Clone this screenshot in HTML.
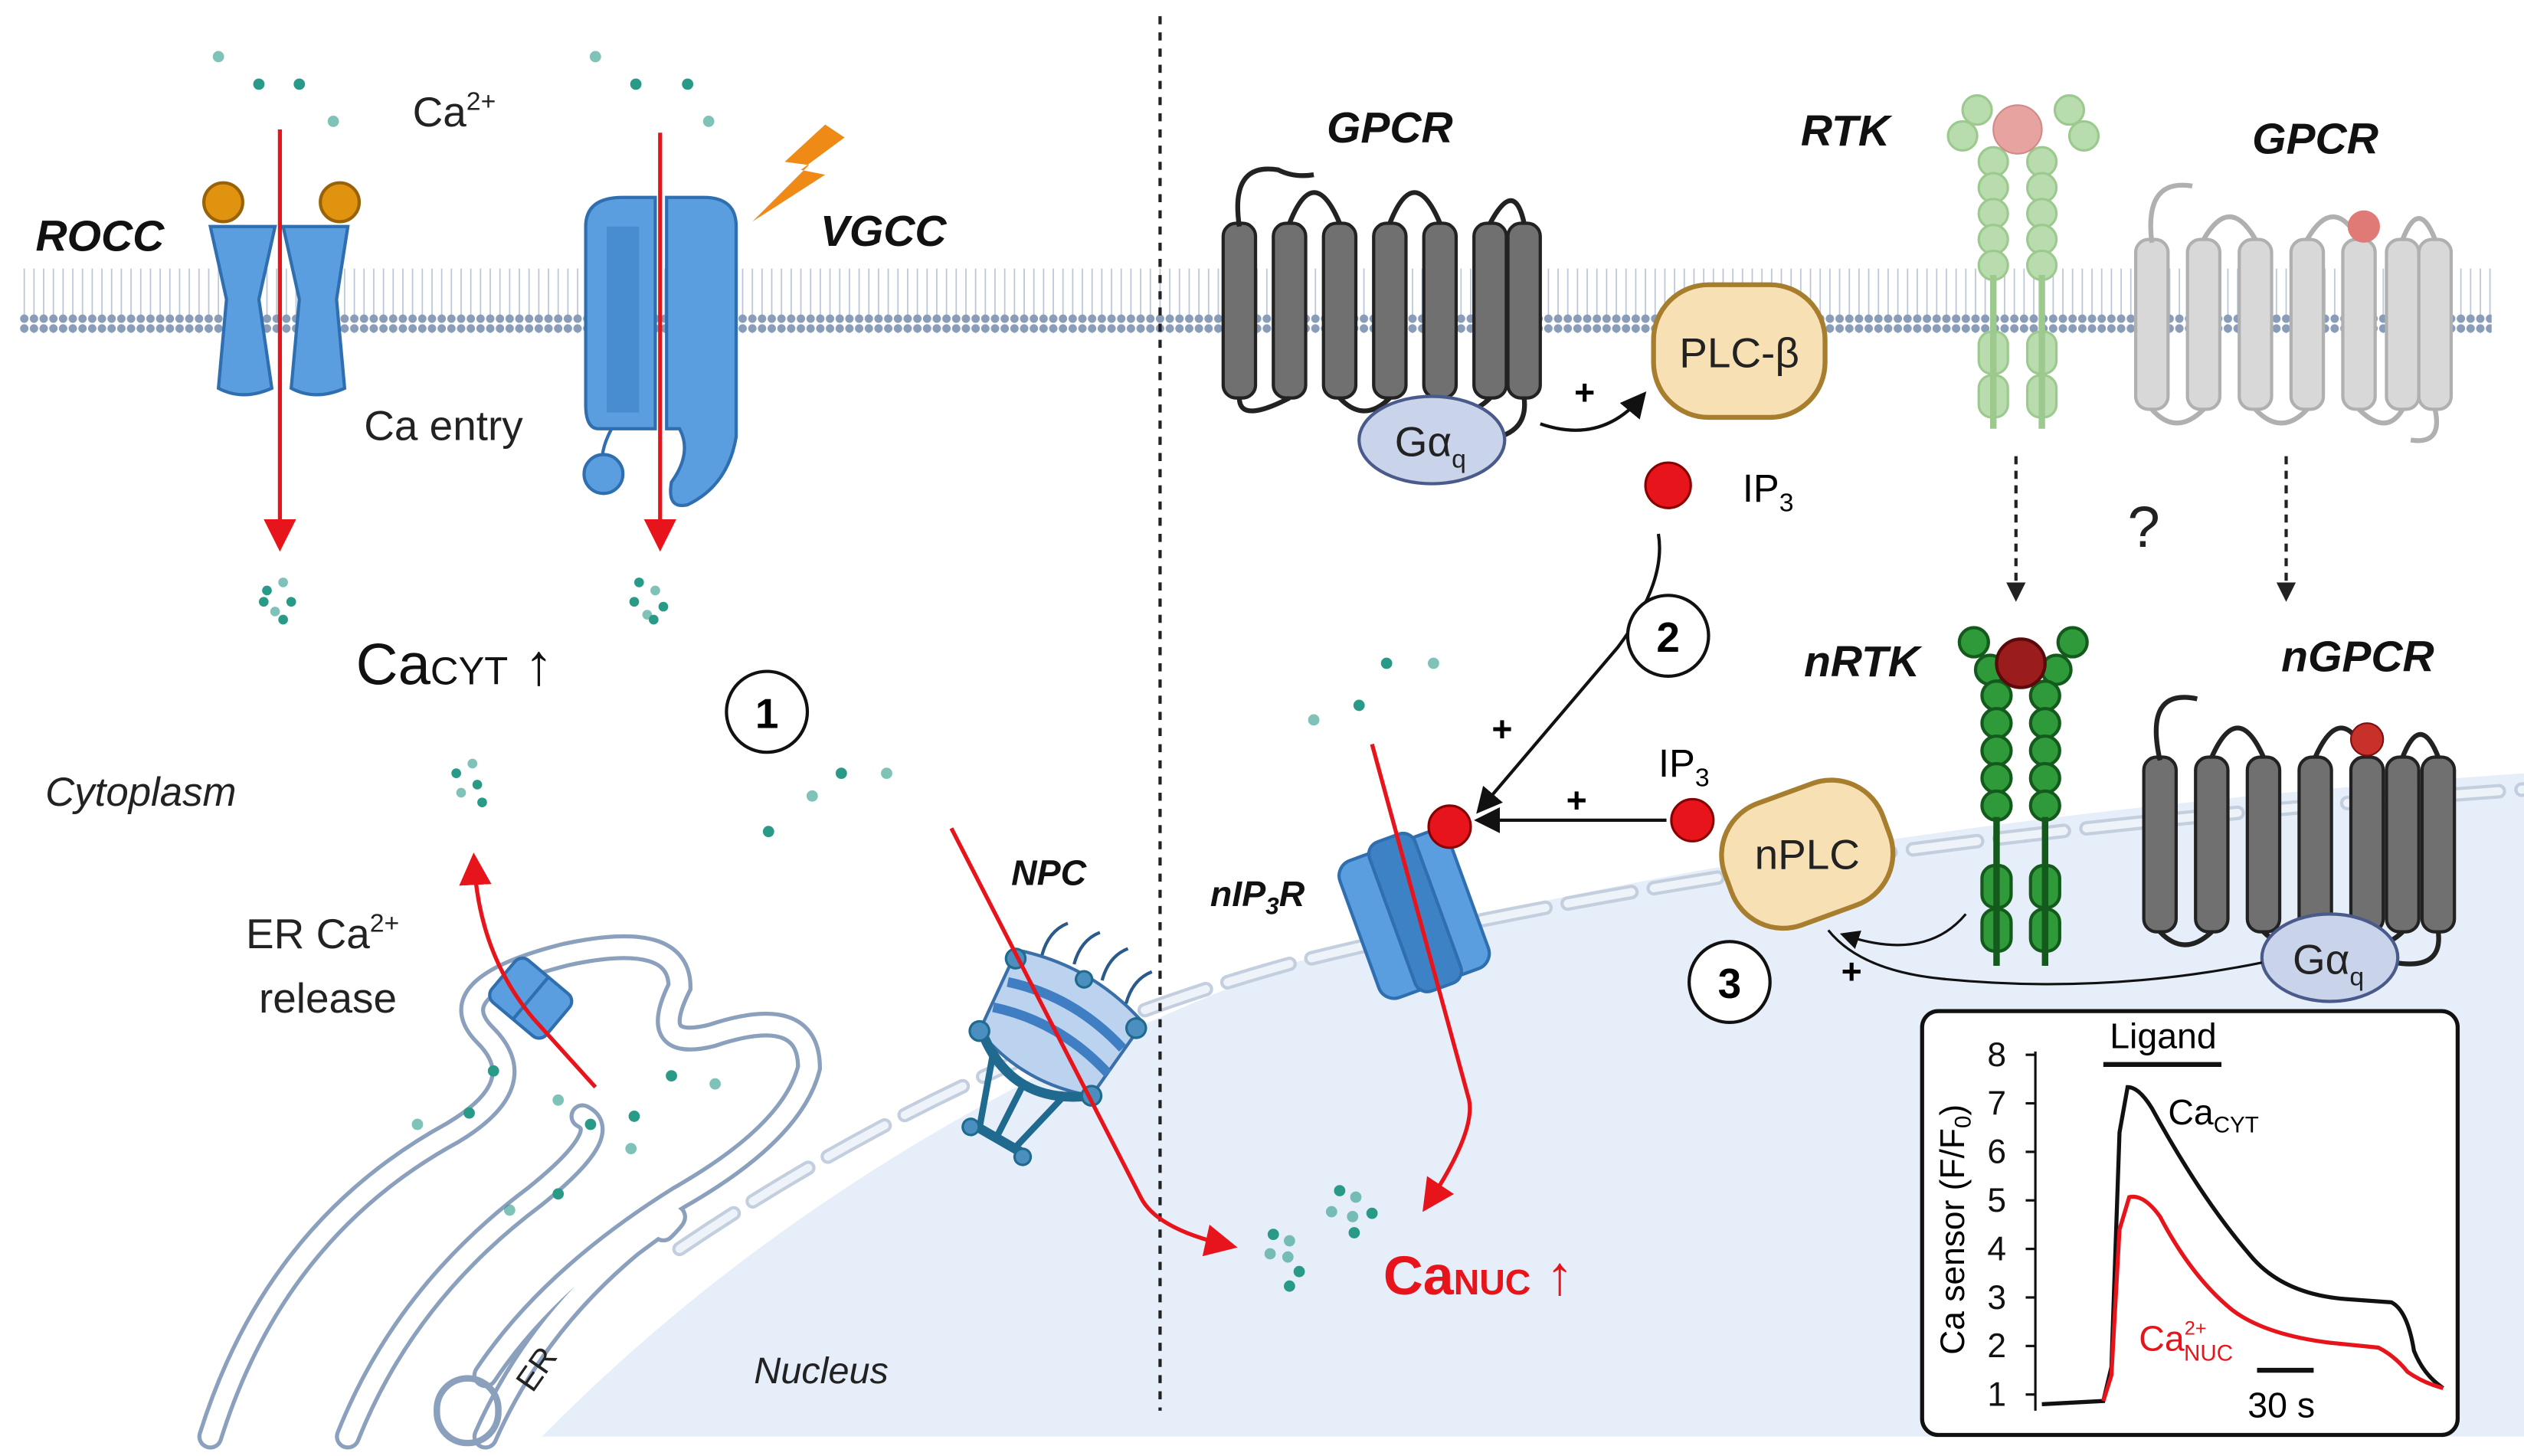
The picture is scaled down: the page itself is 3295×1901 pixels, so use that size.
<!DOCTYPE html>
<html><head><meta charset="utf-8"><style>
html,body{margin:0;padding:0;background:#fff}
svg{display:block}
text{font-family:"Liberation Sans",Arial,sans-serif}
</style></head><body>
<svg width="3295" height="1901" viewBox="0 0 1560 900" xmlns="http://www.w3.org/2000/svg">
<defs>
<pattern id="mem" x="0" y="0" width="6" height="40" patternUnits="userSpaceOnUse">
<line x1="3" y1="4" x2="3" y2="36" stroke="#b9c4d6" stroke-width="0.8"/>
<circle cx="3" cy="3" r="2.6" fill="#8a9db8"/>
<circle cx="3" cy="37" r="2.6" fill="#8a9db8"/>
</pattern>
<marker id="ra" markerWidth="8" markerHeight="8" refX="6" refY="4" orient="auto" markerUnits="strokeWidth"><path d="M0,0 L8,4 L0,8 Z" fill="#e8141b"/></marker>
<marker id="ka" markerWidth="8" markerHeight="8" refX="6" refY="4" orient="auto" markerUnits="strokeWidth"><path d="M0,0 L8,4 L0,8 Z" fill="#111"/></marker>
<marker id="da" markerWidth="6" markerHeight="6" refX="4" refY="3" orient="auto" markerUnits="strokeWidth"><path d="M0,0 L6,3 L0,6 Z" fill="#222"/></marker>
</defs>
<rect width="1560" height="900" fill="#fff"/>
<!-- nucleus -->
<path d="M335 888 Q 520 700 800 595 Q 1100 510 1560 478 L1560 888 Z" fill="#e6eef9"/>
<path d="M420 772 Q 600 650 800 595 Q 1100 520 1560 488" fill="none" stroke="#c3cfde" stroke-width="9" stroke-dasharray="40 14" stroke-linecap="round"/>
<path d="M420 772 Q 600 650 800 595 Q 1100 520 1560 488" fill="none" stroke="#eef3fa" stroke-width="5" stroke-dasharray="40 14" stroke-linecap="round"/>
<!-- membrane -->
<rect x="12" y="166" width="1528" height="40" fill="url(#mem)"/>
<!-- divider -->
<line x1="717" y1="10" x2="717" y2="872" stroke="#222" stroke-width="2" stroke-dasharray="5 5"/>

<!-- ER -->
<g fill="none" stroke="#8aa0bd" stroke-width="16" stroke-linecap="round">
<path d="M130 888 Q 170 760 280 700 Q 330 670 300 640 Q 270 610 350 590 Q 420 575 420 610 Q 400 650 440 640 Q 500 620 500 660 Q 490 700 420 740 Q 340 790 300 850"/>
<path d="M215 888 Q 250 800 330 740 Q 380 700 360 690"/>
<path d="M300 888 Q 330 820 390 770 Q 430 740 410 760"/>
</g>
<g fill="none" stroke="#fff" stroke-width="11" stroke-linecap="round">
<path d="M130 888 Q 170 760 280 700 Q 330 670 300 640 Q 270 610 350 590 Q 420 575 420 610 Q 400 650 440 640 Q 500 620 500 660 Q 490 700 420 740 Q 340 790 300 850"/>
<path d="M215 888 Q 250 800 330 740 Q 380 700 360 690"/>
<path d="M300 888 Q 330 820 390 770 Q 430 740 410 760"/>
</g>
<rect x="270" y="852" width="38" height="40" rx="19" fill="none" stroke="#8aa0bd" stroke-width="4"/>
<text x="318" y="860" font-size="20" transform="rotate(-55 325 850)" fill="#222">ER</text>

<!-- ER channel -->
<g transform="rotate(40 328 617)"><rect x="306" y="600" width="44" height="34" rx="6" fill="#5b9ee0" stroke="#2f6fb0" stroke-width="2"/><line x1="328" y1="600" x2="328" y2="634" stroke="#2f6fb0" stroke-width="2"/></g>
<path d="M368 672 L330 630 Q 296 590 293 532" fill="none" stroke="#e8141b" stroke-width="2.5" marker-end="url(#ra)"/>

<!-- ROCC -->
<path d="M130 140 L170 140 L160 185 L168 240 Q 150 248 135 240 L140 185 Z" fill="#5b9ee0" stroke="#2f6fb0" stroke-width="2"/>
<path d="M175 140 L215 140 L208 185 L213 240 Q 195 248 180 240 L185 185 Z" fill="#5b9ee0" stroke="#2f6fb0" stroke-width="2"/>
<circle cx="138" cy="125" r="12" fill="#e0930f" stroke="#9a6206" stroke-width="2"/>
<circle cx="210" cy="125" r="12" fill="#e0930f" stroke="#9a6206" stroke-width="2"/>
<line x1="173" y1="80" x2="173" y2="336" stroke="#e8141b" stroke-width="2.5" marker-end="url(#ra)"/>
<!-- VGCC -->
<path d="M362 140 Q 362 122 385 122 L405 122 L405 265 L370 265 Q 362 265 362 250 Z" fill="#5b9ee0" stroke="#2f6fb0" stroke-width="2"/>
<path d="M412 122 L435 122 Q 455 122 455 140 L455 270 Q 450 300 425 312 Q 412 315 415 298 Q 428 280 420 265 L412 265 Z" fill="#5b9ee0" stroke="#2f6fb0" stroke-width="2"/>
<path d="M375 140 L395 140 L395 255 L375 255" fill="#3e82c6" opacity="0.6"/>
<path d="M378 265 Q 370 280 373 290" fill="none" stroke="#2f6fb0" stroke-width="2"/>
<circle cx="373" cy="293" r="12" fill="#5b9ee0" stroke="#2f6fb0" stroke-width="2"/>
<line x1="408" y1="82" x2="408" y2="336" stroke="#e8141b" stroke-width="2.5" marker-end="url(#ra)"/>
<path d="M510 77 L485 100 L500 102 L465 137 L510 108 L495 105 L522 85 Z" fill="#f08a16"/>

<!-- Ca dots -->
<g fill="#2a9a88">
<circle cx="135" cy="35" r="3.5" opacity=".6"/><circle cx="160" cy="52" r="3.5"/><circle cx="185" cy="52" r="3.5"/><circle cx="206" cy="75" r="3.5" opacity=".6"/>
<circle cx="368" cy="35" r="3.5" opacity=".6"/><circle cx="393" cy="52" r="3.5"/><circle cx="425" cy="52" r="3.5"/><circle cx="438" cy="75" r="3.5" opacity=".6"/>
<circle cx="165" cy="365" r="3"/><circle cx="175" cy="360" r="3" opacity=".6"/><circle cx="180" cy="372" r="3"/><circle cx="170" cy="378" r="3" opacity=".6"/><circle cx="163" cy="372" r="3"/><circle cx="175" cy="383" r="3"/>
<circle cx="395" cy="360" r="3"/><circle cx="405" cy="365" r="3" opacity=".6"/><circle cx="410" cy="375" r="3"/><circle cx="400" cy="380" r="3" opacity=".6"/><circle cx="392" cy="372" r="3"/><circle cx="404" cy="383" r="3"/>
<circle cx="282" cy="478" r="3"/><circle cx="292" cy="472" r="3" opacity=".6"/><circle cx="295" cy="485" r="3"/><circle cx="285" cy="490" r="3" opacity=".6"/><circle cx="298" cy="496" r="3"/>
<circle cx="520" cy="478" r="3.5"/><circle cx="548" cy="478" r="3.5" opacity=".6"/><circle cx="502" cy="492" r="3.5" opacity=".6"/><circle cx="475" cy="514" r="3.5"/>
<circle cx="305" cy="662" r="3.5"/><circle cx="290" cy="688" r="3.5"/><circle cx="258" cy="695" r="3.5" opacity=".6"/><circle cx="345" cy="680" r="3.5" opacity=".6"/><circle cx="365" cy="695" r="3.5"/><circle cx="415" cy="665" r="3.5"/><circle cx="442" cy="670" r="3.5" opacity=".6"/><circle cx="392" cy="690" r="3.5"/><circle cx="390" cy="710" r="3.5" opacity=".6"/><circle cx="345" cy="738" r="3.5"/><circle cx="315" cy="748" r="3.5" opacity=".6"/>
<circle cx="857" cy="410" r="3.5"/><circle cx="886" cy="410" r="3.5" opacity=".6"/><circle cx="840" cy="436" r="3.5"/><circle cx="812" cy="445" r="3.5" opacity=".6"/>
<circle cx="787" cy="763" r="3.5"/><circle cx="797" cy="767" r="3.5" opacity=".6"/><circle cx="785" cy="775" r="3.5" opacity=".6"/><circle cx="796" cy="777" r="3.5" opacity=".6"/><circle cx="803" cy="786" r="3.5"/><circle cx="797" cy="795" r="3.5"/>
<circle cx="828" cy="736" r="3.5"/><circle cx="838" cy="740" r="3.5" opacity=".6"/><circle cx="823" cy="749" r="3.5" opacity=".6"/><circle cx="836" cy="752" r="3.5" opacity=".6"/><circle cx="848" cy="750" r="3.5"/><circle cx="837" cy="762" r="3.5"/>
</g>

<!-- NPC -->
<g transform="rotate(30 650 640)">
<path d="M605 605 Q 650 590 695 605 L 690 660 Q 650 675 610 660 Z" fill="#bcd3f0" stroke="#3a6fa8" stroke-width="2"/>
<path d="M610 625 Q 650 612 692 625" fill="none" stroke="#3f7ec2" stroke-width="6"/>
<path d="M610 643 Q 650 630 692 643" fill="none" stroke="#3f7ec2" stroke-width="6"/>
<path d="M612 660 Q 650 690 690 660" fill="none" stroke="#1f6a8e" stroke-width="6"/>
<path d="M625 670 L640 712 M650 675 L652 712 M675 670 L665 712" stroke="#1f6a8e" stroke-width="4"/>
<path d="M635 712 L672 712" stroke="#1f6a8e" stroke-width="6"/>
<g fill="#4a8fbf" stroke="#1f6a8e" stroke-width="1.5"><circle cx="607" cy="610" r="6"/><circle cx="693" cy="610" r="6"/><circle cx="610" cy="660" r="6"/><circle cx="690" cy="660" r="6"/><circle cx="635" cy="714" r="5"/><circle cx="672" cy="714" r="5"/><circle cx="650" cy="600" r="5"/></g>
<path d="M620 600 q-4 -15 4 -25 M640 595 q-4 -15 4 -25 M660 595 q-4 -15 4 -25 M680 600 q-4 -15 4 -25" fill="none" stroke="#2a5a8a" stroke-width="2"/>
</g>
<path d="M588 512 L705 740 Q 715 760 760 770" fill="none" stroke="#e8141b" stroke-width="2.5" marker-end="url(#ra)"/>

<!-- GPCR -->
<g fill="#707070" stroke="#222" stroke-width="2">
<rect x="756" y="138" width="20" height="108" rx="8"/><rect x="787" y="138" width="20" height="108" rx="8"/><rect x="818" y="138" width="20" height="108" rx="8"/><rect x="849" y="138" width="20" height="108" rx="8"/><rect x="880" y="138" width="20" height="108" rx="8"/><rect x="911" y="138" width="20" height="108" rx="8"/><rect x="932" y="138" width="20" height="108" rx="8"/>
</g>
<path d="M766 140 Q 760 100 790 105 Q 800 110 812 108 M797 138 Q 812 100 828 138 M859 138 Q 874 100 890 138 M921 138 Q 936 110 942 138 M766 246 Q 766 262 797 246 M828 246 Q 843 262 859 246 M890 246 Q 905 262 921 246 M942 246 Q 945 270 915 272" fill="none" stroke="#222" stroke-width="3"/>
<ellipse cx="885" cy="272" rx="45" ry="27" fill="#c9d3ea" stroke="#4a5a8a" stroke-width="2"/>
<text x="862" y="282" font-size="26" fill="#222">Gα<tspan font-size="16" dy="7">q</tspan></text>
<path d="M952 262 Q 990 275 1015 245" fill="none" stroke="#111" stroke-width="2" marker-end="url(#ka)"/>
<text x="973" y="250" font-size="22" font-weight="bold">+</text>
<rect x="1022" y="176" width="106" height="82" rx="34" fill="#f7e0b4" stroke="#a77d2e" stroke-width="3"/>
<text x="1075" y="227" font-size="26" text-anchor="middle" fill="#222">PLC-β</text>
<circle cx="1031" cy="300" r="14" fill="#e8141b" stroke="#800" stroke-width="1.5"/>
<text x="1077" y="310" font-size="24">IP<tspan font-size="16" dy="6">3</tspan></text>
<path d="M1025 330 Q 1030 360 1000 400 L 915 500" fill="none" stroke="#111" stroke-width="2" marker-end="url(#ka)"/>
<text x="922" y="458" font-size="22" font-weight="bold">+</text>

<!-- RTK light -->
<g fill="#b8dcae" stroke="#9cc98e" stroke-width="1.5">
<circle cx="1222" cy="68" r="9"/><circle cx="1213" cy="84" r="9"/><circle cx="1279" cy="68" r="9"/><circle cx="1288" cy="84" r="9"/>
<circle cx="1232" cy="100" r="9"/><circle cx="1232" cy="116" r="9"/><circle cx="1232" cy="132" r="9"/><circle cx="1232" cy="148" r="9"/><circle cx="1232" cy="164" r="9"/>
<circle cx="1262" cy="100" r="9"/><circle cx="1262" cy="116" r="9"/><circle cx="1262" cy="132" r="9"/><circle cx="1262" cy="148" r="9"/><circle cx="1262" cy="164" r="9"/>
<rect x="1223" y="205" width="18" height="26" rx="8"/><rect x="1223" y="232" width="18" height="26" rx="8"/><rect x="1253" y="205" width="18" height="26" rx="8"/><rect x="1253" y="232" width="18" height="26" rx="8"/>
</g>
<rect x="1230" y="170" width="4" height="95" fill="#9cc98e"/><rect x="1260" y="170" width="4" height="95" fill="#9cc98e"/>
<circle cx="1247" cy="80" r="15" fill="#e6a3a0" stroke="#d08a88"/>
<!-- GPCR faded -->
<g fill="#d8d8d8" stroke="#b0b0b0" stroke-width="2">
<rect x="1320" y="148" width="20" height="105" rx="8"/><rect x="1352" y="148" width="20" height="105" rx="8"/><rect x="1384" y="148" width="20" height="105" rx="8"/><rect x="1416" y="148" width="20" height="105" rx="8"/><rect x="1448" y="148" width="20" height="105" rx="8"/><rect x="1475" y="148" width="20" height="105" rx="8"/><rect x="1495" y="148" width="20" height="105" rx="8"/>
</g>
<path d="M1330 150 Q 1325 110 1355 115 M1362 148 Q 1378 120 1394 148 M1426 148 Q 1442 120 1458 148 M1485 148 Q 1495 122 1505 148 M1330 253 Q 1345 270 1362 253 M1394 253 Q 1410 270 1426 253 M1458 253 Q 1475 270 1485 253 M1505 253 Q 1510 275 1490 272" fill="none" stroke="#b0b0b0" stroke-width="3"/>
<circle cx="1461" cy="140" r="10" fill="#e07a76"/>
<line x1="1246" y1="282" x2="1246" y2="368" stroke="#222" stroke-width="2" stroke-dasharray="5 4" marker-end="url(#da)"/>
<line x1="1413" y1="282" x2="1413" y2="368" stroke="#222" stroke-width="2" stroke-dasharray="5 4" marker-end="url(#da)"/>
<text x="1325" y="338" font-size="36" text-anchor="middle" fill="#222">?</text>

<!-- nRTK -->
<g fill="#2f9a3a" stroke="#155a1d" stroke-width="2">
<circle cx="1220" cy="397" r="9"/><circle cx="1230" cy="414" r="9"/><circle cx="1281" cy="397" r="9"/><circle cx="1271" cy="414" r="9"/>
<circle cx="1234" cy="430" r="9"/><circle cx="1234" cy="447" r="9"/><circle cx="1234" cy="464" r="9"/><circle cx="1234" cy="481" r="9"/><circle cx="1234" cy="498" r="9"/>
<circle cx="1264" cy="430" r="9"/><circle cx="1264" cy="447" r="9"/><circle cx="1264" cy="464" r="9"/><circle cx="1264" cy="481" r="9"/><circle cx="1264" cy="498" r="9"/>
<rect x="1225" y="535" width="18" height="26" rx="8"/><rect x="1225" y="562" width="18" height="26" rx="8"/><rect x="1255" y="535" width="18" height="26" rx="8"/><rect x="1255" y="562" width="18" height="26" rx="8"/>
</g>
<rect x="1232" y="505" width="4" height="92" fill="#155a1d"/><rect x="1262" y="505" width="4" height="92" fill="#155a1d"/>
<circle cx="1249" cy="410" r="15" fill="#9a1c1c" stroke="#5a0a0a" stroke-width="2"/>
<!-- nGPCR -->
<g fill="#707070" stroke="#222" stroke-width="2">
<rect x="1325" y="468" width="20" height="108" rx="8"/><rect x="1357" y="468" width="20" height="108" rx="8"/><rect x="1389" y="468" width="20" height="108" rx="8"/><rect x="1421" y="468" width="20" height="108" rx="8"/><rect x="1453" y="468" width="20" height="108" rx="8"/><rect x="1475" y="468" width="20" height="108" rx="8"/><rect x="1497" y="468" width="20" height="108" rx="8"/>
</g>
<path d="M1335 470 Q 1325 425 1358 432 M1367 468 Q 1383 432 1399 468 M1431 468 Q 1447 432 1463 468 M1485 468 Q 1496 440 1507 468 M1335 576 Q 1350 592 1367 576 M1399 576 Q 1415 592 1431 576 M1463 576 Q 1470 590 1485 576 M1507 576 Q 1510 600 1480 595" fill="none" stroke="#222" stroke-width="3"/>
<circle cx="1463" cy="457" r="10" fill="#c8302a" stroke="#7a1010"/>
<ellipse cx="1440" cy="592" rx="42" ry="27" fill="#c9d3ea" stroke="#4a5a8a" stroke-width="2"/>
<text x="1417" y="602" font-size="26" fill="#222">Gα<tspan font-size="16" dy="7">q</tspan></text>
<!-- nPLC -->
<g transform="rotate(-20 1117 528)"><rect x="1065" y="488" width="104" height="80" rx="34" fill="#f7e0b4" stroke="#a77d2e" stroke-width="3"/></g>
<text x="1117" y="537" font-size="26" text-anchor="middle" fill="#222">nPLC</text>
<path d="M1215 565 Q 1190 595 1140 578" fill="none" stroke="#111" stroke-width="1.5" marker-end="url(#ka)"/>
<path d="M1398 595 Q 1300 615 1200 605 Q 1150 600 1130 575" fill="none" stroke="#111" stroke-width="1.5"/>
<text x="1138" y="608" font-size="22" font-weight="bold">+</text>
<circle cx="1046" cy="507" r="13" fill="#e8141b" stroke="#800" stroke-width="1.5"/>
<text x="1025" y="480" font-size="24">IP<tspan font-size="16" dy="6">3</tspan></text>
<line x1="1030" y1="507" x2="915" y2="507" stroke="#111" stroke-width="2" marker-end="url(#ka)"/>
<text x="968" y="502" font-size="22" font-weight="bold">+</text>
<!-- nIP3R -->
<g transform="rotate(-20 875 565)">
<rect x="838" y="520" width="34" height="90" rx="10" fill="#5b9ee0" stroke="#2f6fb0" stroke-width="2"/>
<rect x="876" y="520" width="34" height="90" rx="10" fill="#5b9ee0" stroke="#2f6fb0" stroke-width="2"/>
<rect x="860" y="515" width="30" height="98" rx="8" fill="#3e82c6" stroke="#2f6fb0" stroke-width="2"/>
</g>
<path d="M848 460 L908 680 Q 912 700 882 745" fill="none" stroke="#e8141b" stroke-width="2.5" marker-end="url(#ra)"/>
<circle cx="896" cy="511" r="13" fill="#e8141b" stroke="#800" stroke-width="1.5"/>

<!-- circled numbers -->
<g fill="#fff" stroke="#111" stroke-width="2"><circle cx="474" cy="440" r="25"/><circle cx="1031" cy="393" r="25"/><circle cx="1069" cy="607" r="25"/></g>
<g font-size="26" font-weight="bold" text-anchor="middle"><text x="474" y="450">1</text><text x="1031" y="403">2</text><text x="1069" y="617">3</text></g>

<!-- labels -->
<g font-weight="bold" font-style="italic" font-size="27" fill="#111">
<text x="22" y="155">ROCC</text><text x="507" y="152">VGCC</text><text x="820" y="88">GPCR</text><text x="1113" y="90">RTK</text><text x="1392" y="95">GPCR</text>
<text x="1115" y="418">nRTK</text><text x="1410" y="415">nGPCR</text>
<text x="625" y="547" font-size="22">NPC</text><text x="748" y="560" font-size="22">nIP<tspan font-size="15" dy="5">3</tspan><tspan dy="-5">R</tspan></text>
</g>
<text x="255" y="78" font-size="26" fill="#222">Ca<tspan font-size="16" dy="-10">2+</tspan></text>
<text x="225" y="272" font-size="26" fill="#222">Ca entry</text>
<text x="220" y="423" font-size="36" fill="#111">Ca<tspan font-size="24">CYT</tspan> ↑</text>
<text x="28" y="498" font-size="25" font-style="italic" fill="#222">Cytoplasm</text>
<text x="152" y="586" font-size="26" fill="#222">ER Ca<tspan font-size="16" dy="-10">2+</tspan></text>
<text x="160" y="626" font-size="26" fill="#222">release</text>
<text x="466" y="855" font-size="23" font-style="italic" fill="#222">Nucleus</text>
<text x="855" y="800" font-size="34" font-weight="bold" fill="#e8141b">Ca<tspan font-size="22">NUC</tspan><tspan font-weight="normal"> ↑</tspan></text>

<!-- graph -->
<rect x="1188" y="625" width="331" height="262" rx="10" fill="#fff" stroke="#111" stroke-width="2.5"/>
<line x1="1300" y1="658" x2="1373" y2="658" stroke="#111" stroke-width="3"/>
<text x="1337" y="648" font-size="22" text-anchor="middle">Ligand</text>
<line x1="1258" y1="650" x2="1258" y2="872" stroke="#111" stroke-width="1.5"/>
<g font-size="21" text-anchor="end" fill="#111">
<text x="1240" y="869">1</text><text x="1240" y="839">2</text><text x="1240" y="809">3</text><text x="1240" y="779">4</text><text x="1240" y="749">5</text><text x="1240" y="719">6</text><text x="1240" y="689">7</text><text x="1240" y="659">8</text>
</g>
<g stroke="#111" stroke-width="1.5"><line x1="1252" y1="862" x2="1258" y2="862"/><line x1="1252" y1="832" x2="1258" y2="832"/><line x1="1252" y1="802" x2="1258" y2="802"/><line x1="1252" y1="772" x2="1258" y2="772"/><line x1="1252" y1="742" x2="1258" y2="742"/><line x1="1252" y1="712" x2="1258" y2="712"/><line x1="1252" y1="682" x2="1258" y2="682"/><line x1="1252" y1="652" x2="1258" y2="652"/></g>
<text x="1214" y="760" font-size="21" text-anchor="middle" transform="rotate(-90 1214 760)">Ca sensor (F/F<tspan font-size="14" dy="4">0</tspan><tspan dy="-4">)</tspan></text>
<path d="M1262 868 L1300 866 L1305 845 L1310 700 L1315 672 Q 1322 672 1330 685 Q 1360 740 1390 775 Q 1410 800 1450 803 L1478 805 Q 1488 810 1492 835 Q 1498 850 1510 858" fill="none" stroke="#111" stroke-width="2.5"/>
<path d="M1300 866 L1305 850 L1310 760 L1316 740 Q 1325 738 1335 752 Q 1355 790 1380 810 Q 1400 825 1440 830 L1470 833 Q 1480 838 1488 848 Q 1498 855 1510 858" fill="none" stroke="#e8141b" stroke-width="2.5"/>
<text x="1340" y="695" font-size="22">Ca<tspan font-size="14" dy="5">CYT</tspan></text>
<text x="1322" y="835" font-size="22" fill="#e8141b">Ca<tspan font-size="12" dy="-10">2+</tspan><tspan font-size="14" dx="-14" dy="16">NUC</tspan></text>
<line x1="1395" y1="847" x2="1430" y2="847" stroke="#111" stroke-width="3"/>
<text x="1410" y="876" font-size="22" text-anchor="middle">30 s</text>
</svg>
</body></html>
